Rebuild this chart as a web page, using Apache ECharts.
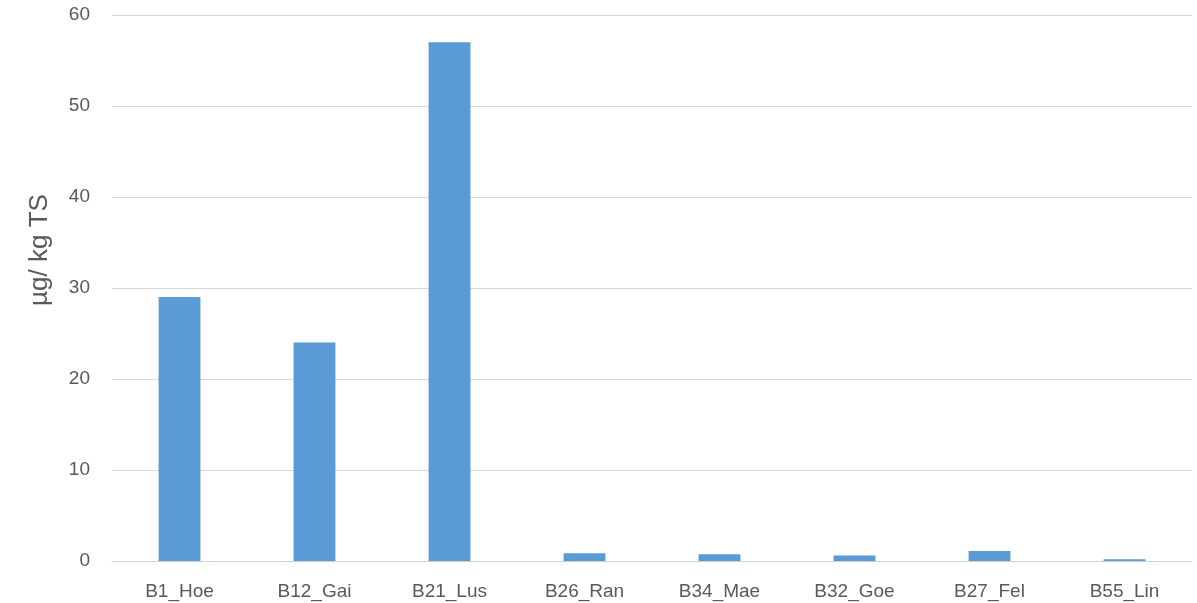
<!DOCTYPE html>
<html>
<head>
<meta charset="utf-8">
<script src="https://cdn.jsdelivr.net/npm/echarts@6/dist/echarts.min.js"></script>
<style>
  html, body { margin: 0; padding: 0; background: #ffffff; }
  #chart { width: 1197px; height: 603px; }
</style>
</head>
<body>
<div id="chart"></div>
<script>
// Sampling sites and measured concentration (µg per kg dry matter)
const sites = ['B1_Hoe', 'B12_Gai', 'B21_Lus', 'B26_Ran', 'B34_Mae', 'B32_Goe', 'B27_Fel', 'B55_Lin'];
const concentration = [29, 24, 57, 0.85, 0.75, 0.6, 1.1, 0.2];
const yTicks = { min: 0, max: 60, step: 10 };
const yTitle = 'µg/ kg TS';

const chart = echarts.init(document.getElementById('chart'));
const font = '"Liberation Sans", "Open Sans", sans-serif';

chart.setOption({
  animation: false,
  grid: { left: 112, right: 5, top: 15, bottom: 42 },
  xAxis: {
    type: 'category',
    data: sites,
    axisLine: { lineStyle: { color: '#d0d0d0', width: 1 } },
    axisTick: { show: false },
    axisLabel: { color: '#595959', fontSize: 19, fontFamily: font, margin: 21 }
  },
  yAxis: {
    type: 'value',
    min: yTicks.min,
    max: yTicks.max,
    interval: yTicks.step,
    name: yTitle,
    nameLocation: 'middle',
    nameGap: 59,
    nameTextStyle: { color: '#595959', fontSize: 26, fontFamily: font, padding: [0, 0, 0, 76] },
    axisLine: { show: false },
    axisTick: { show: false },
    axisLabel: { color: '#595959', fontSize: 19, fontFamily: font, margin: 22 },
    splitLine: { lineStyle: { color: '#d9d9d9', width: 1 } }
  },
  series: [{
    type: 'bar',
    data: concentration,
    barWidth: '31%',
    itemStyle: { color: '#5b9bd5' }
  }]
});
</script>
</body>
</html>
